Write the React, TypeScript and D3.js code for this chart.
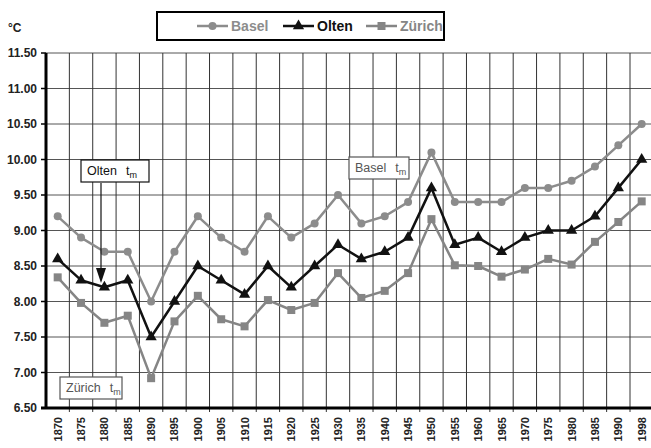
import React, { useEffect, useRef } from "react";
import * as d3 from "d3";

const years = [
  "1870", "1875", "1880", "1885", "1890", "1895", "1900", "1905", "1910",
  "1915", "1920", "1925", "1930", "1935", "1940", "1945", "1950", "1955",
  "1960", "1965", "1970", "1975", "1980", "1985", "1990", "1998",
];

const basel = [
  9.2, 8.9, 8.7, 8.7, 8.0, 8.7, 9.2, 8.9, 8.7, 9.2, 8.9, 9.1, 9.5, 9.1, 9.2,
  9.4, 10.1, 9.4, 9.4, 9.4, 9.6, 9.6, 9.7, 9.9, 10.2, 10.5,
];
const olten = [
  8.6, 8.3, 8.2, 8.3, 7.5, 8.0, 8.5, 8.3, 8.1, 8.5, 8.2, 8.5, 8.8, 8.6, 8.7,
  8.9, 9.6, 8.8, 8.9, 8.7, 8.9, 9.0, 9.0, 9.2, 9.6, 10.0,
];
const zurich = [
  8.34, 7.98, 7.7, 7.8, 6.92, 7.72, 8.08, 7.75, 7.65, 8.02, 7.88, 7.98, 8.4,
  8.05, 8.15, 8.4, 9.16, 8.51, 8.5, 8.35, 8.45, 8.6, 8.52, 8.84, 9.12, 9.41,
];

const yTicks = [6.5, 7.0, 7.5, 8.0, 8.5, 9.0, 9.5, 10.0, 10.5, 11.0, 11.5];

const seriesNames = ["Basel", "Olten", "Zürich"];

const FONT = "'Liberation Sans', Arial, sans-serif";

const ClimateChart = () => {
  const svgRef = useRef<SVGSVGElement>(null);

  useEffect(() => {
    const svg = d3.select(svgRef.current);
    svg.selectAll("*").remove();

    const width = 651;
    const height = 448;
    const left = 46;
    const top = 53;
    const bottom = 408;
    const band = 23.36;

    svg.attr("width", width).attr("height", height);

    const x = d3
      .scaleBand()
      .domain(years)
      .range([left, left + band * years.length])
      .padding(0);
    const cx = (d: string) => (x(d) as number) + x.bandwidth() / 2;

    const y = d3.scaleLinear().domain([6.5, 11.5]).range([bottom, top]);

    const series = [
      { name: "Basel", values: basel, color: "#8c8c8c", marker: "circle" },
      { name: "Olten", values: olten, color: "#111", marker: "triangle" },
      { name: "Zürich", values: zurich, color: "#858585", marker: "square" },
    ];

    // grid
    const grid = svg.append("g");
    grid
      .selectAll(".hgrid")
      .data(yTicks)
      .enter()
      .append("line")
      .attr("x1", left)
      .attr("x2", width)
      .attr("y1", (d) => y(d))
      .attr("y2", (d) => y(d))
      .attr("stroke", "#555")
      .attr("stroke-width", 1);

    const boundaries = years.slice(1).map((d) => x(d) as number);
    grid
      .selectAll(".vgrid")
      .data(boundaries)
      .enter()
      .append("line")
      .attr("x1", (d) => d)
      .attr("x2", (d) => d)
      .attr("y1", top)
      .attr("y2", bottom + 4)
      .attr("stroke", "#333")
      .attr("stroke-width", 1);

    // y ticks + labels
    svg
      .selectAll(".ytick")
      .data(yTicks)
      .enter()
      .append("line")
      .attr("x1", left - 5)
      .attr("x2", left)
      .attr("y1", (d) => y(d))
      .attr("y2", (d) => y(d))
      .attr("stroke", "#000")
      .attr("stroke-width", 1.5);

    svg
      .selectAll(".ylabel")
      .data(yTicks)
      .enter()
      .append("text")
      .attr("x", 37)
      .attr("y", (d) => y(d))
      .attr("dy", "0.35em")
      .attr("text-anchor", "end")
      .attr("font-family", FONT)
      .attr("font-size", 12)
      .attr("font-weight", "bold")
      .attr("fill", "#222")
      .text((d) => d.toFixed(2));

    svg
      .append("text")
      .attr("x", 8)
      .attr("y", 32)
      .attr("font-family", FONT)
      .attr("font-size", 12)
      .attr("font-weight", "bold")
      .attr("fill", "#222")
      .text("°C");

    // x labels
    svg
      .selectAll(".xlabel")
      .data(years)
      .enter()
      .append("text")
      .attr(
        "transform",
        (d) => `translate(${cx(d) + 4},${bottom + 9}) rotate(-90)`
      )
      .attr("text-anchor", "end")
      .attr("font-family", FONT)
      .attr("font-size", 11)
      .attr("font-weight", "bold")
      .attr("fill", "#222")
      .text((d) => d);

    // axes
    svg
      .append("line")
      .attr("x1", left)
      .attr("x2", left)
      .attr("y1", top)
      .attr("y2", bottom)
      .attr("stroke", "#000")
      .attr("stroke-width", 3);
    svg
      .append("line")
      .attr("x1", left - 5)
      .attr("x2", width)
      .attr("y1", bottom)
      .attr("y2", bottom)
      .attr("stroke", "#000")
      .attr("stroke-width", 3);

    // lines + markers
    const line = d3
      .line<number>()
      .x((_, i) => cx(years[i]))
      .y((d) => y(d));

    const drawMarker = (
      g: any,
      kind: string,
      px: number,
      py: number,
      color: string
    ) => {
      if (kind === "circle") {
        g.append("circle").attr("cx", px).attr("cy", py).attr("r", 4).attr("fill", color);
      } else if (kind === "square") {
        g.append("rect")
          .attr("x", px - 4)
          .attr("y", py - 4)
          .attr("width", 8)
          .attr("height", 8)
          .attr("fill", color);
      } else {
        g.append("path")
          .attr("transform", `translate(${px},${py})`)
          .attr("d", d3.symbol().type(d3.symbolTriangle).size(55)()!)
          .attr("fill", color);
      }
    };

    series.forEach((s) => {
      const g = svg.append("g");
      g.append("path")
        .datum(s.values)
        .attr("d", line)
        .attr("fill", "none")
        .attr("stroke", s.color)
        .attr("stroke-width", 2.5)
        .attr("stroke-linejoin", "round");
      s.values.forEach((v, i) => drawMarker(g, s.marker, cx(years[i]), y(v), s.color));
    });

    // annotation boxes
    const note = (
      bx: number,
      by: number,
      w: number,
      label: string,
      color: string
    ) => {
      const g = svg.append("g");
      g.append("rect")
        .attr("x", bx)
        .attr("y", by)
        .attr("width", w)
        .attr("height", 22)
        .attr("fill", "#fff")
        .attr("stroke", color)
        .attr("stroke-width", 1.2);
      const t = g
        .append("text")
        .attr("x", bx + 6)
        .attr("y", by + 15)
        .attr("font-family", FONT)
        .attr("font-size", 12.5)
        .attr("fill", color);
      t.append("tspan").text(label);
      t.append("tspan").attr("dx", 9).text("t");
      t.append("tspan").attr("font-size", 9).attr("dy", 3).text("m");
    };

    note(81, 160, 68, "Olten", "#111");
    note(349, 157, 60, "Basel", "#555");
    note(60, 377, 62, "Zürich", "#555");

    // arrow for Olten
    svg
      .append("line")
      .attr("x1", 101)
      .attr("x2", 101)
      .attr("y1", 183)
      .attr("y2", 272)
      .attr("stroke", "#111")
      .attr("stroke-width", 1.2);
    svg
      .append("path")
      .attr("d", "M96,268 L106,268 L101,283 Z")
      .attr("fill", "#111");

    // legend
    const lg = svg.append("g");
    lg.append("rect")
      .attr("x", 157)
      .attr("y", 12)
      .attr("width", 287)
      .attr("height", 28)
      .attr("fill", "#fff")
      .attr("stroke", "#000")
      .attr("stroke-width", 2);

    const legendX = [197, 283, 366];
    seriesNames.forEach((name, i) => {
      const s = series[i];
      const lx = legendX[i];
      lg.append("line")
        .attr("x1", lx)
        .attr("x2", lx + 31)
        .attr("y1", 26)
        .attr("y2", 26)
        .attr("stroke", s.color)
        .attr("stroke-width", 2.5);
      drawMarker(lg, s.marker, lx + 15.5, 26, s.color);
      lg.append("text")
        .attr("x", lx + 34)
        .attr("y", 31)
        .attr("font-family", FONT)
        .attr("font-size", 14)
        .attr("font-weight", "bold")
        .attr("fill", s.color)
        .text(name);
    });
  }, []);

  return <svg ref={svgRef} style={{ position: "absolute", left: 0, top: 0 }}></svg>;
};

export default function App() {
  return <ClimateChart />;
}
